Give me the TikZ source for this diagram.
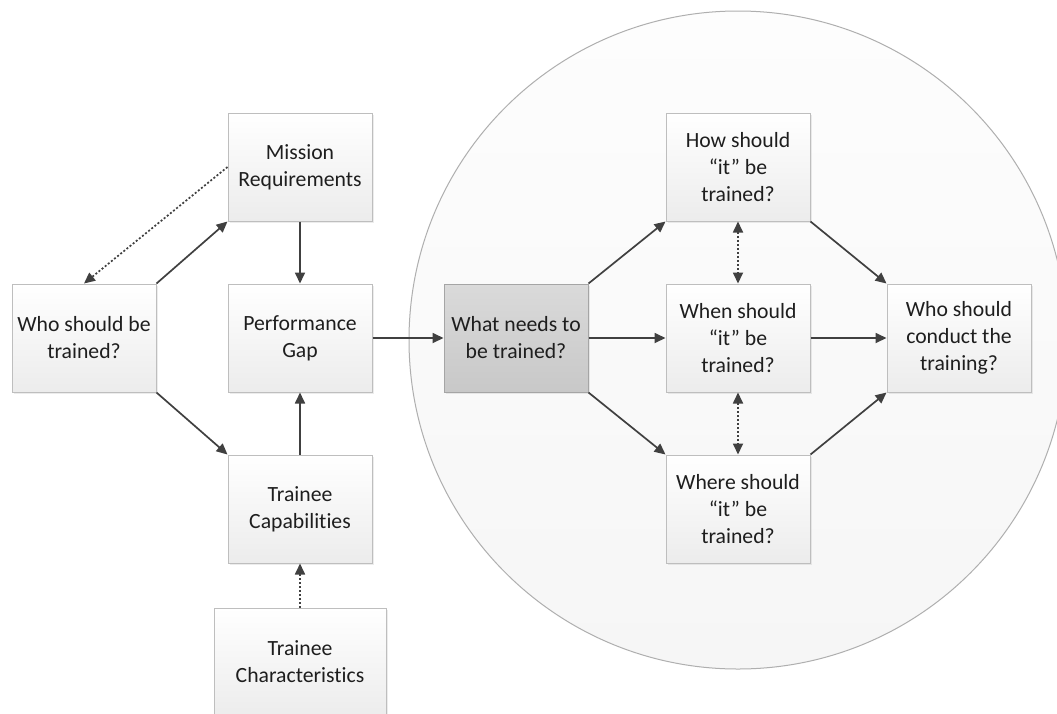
\documentclass[tikz,border=0pt]{standalone}
\usepackage{fontspec}
\setmainfont{Carlito}[Ligatures=NoCommon]
\usetikzlibrary{arrows.meta,shadows}
\definecolor{boxline}{RGB}{190,190,190}
\definecolor{boxbot}{RGB}{236,236,236}
\definecolor{darkline}{RGB}{64,64,64}
\definecolor{whattop}{RGB}{218,218,218}
\definecolor{whatbot}{RGB}{200,200,200}
\definecolor{whatline}{RGB}{165,165,165}
\definecolor{circtop}{RGB}{253,253,253}
\definecolor{circbot}{RGB}{246,246,246}
\definecolor{circline}{RGB}{175,175,175}
\definecolor{txt}{RGB}{30,30,30}
\tikzset{
  box/.style={draw=boxline, line width=1pt, top color=white, bottom color=boxbot,
    minimum width=144pt, minimum height=108pt, inner sep=0pt, align=center,
    text=txt, font=\fontsize{21.7}{27}\selectfont,
    drop shadow={opacity=0.15, shadow xshift=1.5pt, shadow yshift=-1.5pt}},
  whatbox/.style={box, draw=whatline, top color=whattop, bottom color=whatbot},
  arr/.style={draw=darkline, line width=1.7pt, -{Triangle[length=11pt,width=10pt]}},
  dotarr/.style={arr, dash pattern=on 2pt off 2pt},
  dotboth/.style={draw=darkline, line width=1.7pt, dash pattern=on 2pt off 2pt,
    {Triangle[length=11pt,width=10pt]}-{Triangle[length=11pt,width=10pt]}}
}
\begin{document}
\begin{tikzpicture}[x=1pt,y=-1pt]
\useasboundingbox (0,0) rectangle (1057,713);
\clip (0,0) rectangle (1057,713);
\fill[white] (0,0) rectangle (1057,713);
\shade[top color=circtop, bottom color=circbot, draw=circline, line width=1pt]
  (738,340) circle[radius=329];
\node[box] (mission) at (300,167) {Mission\\Requirements};
\node[box] (who) at (84,338) {Who should be\\trained?};
\node[box] (gap) at (300,338) {Performance\\Gap};
\node[box] (cap) at (300,509) {Trainee\\Capabilities};
\node[box, minimum width=172pt] (char) at (300,662) {Trainee\\Characteristics};
\node[whatbox] (what) at (516,338) {What needs to\\be trained?};
\node[box] (how) at (738,167) {How should\\“it” be\\trained?};
\node[box] (when) at (738,338) {When should\\“it” be\\trained?};
\node[box] (where) at (738,509) {Where should\\“it” be\\trained?};
\node[box] (conduct) at (959,338) {Who should\\conduct the\\training?};
\draw[arr] (who.north east) -- (mission.south west);
\draw[dotarr] (mission.west) -- (who.north);
\draw[arr] (who.south east) -- (cap.north west);
\draw[arr] (mission) -- (gap);
\draw[arr] (cap) -- (gap);
\draw[dotarr] (char) -- (cap);
\draw[arr] (gap) -- (what);
\draw[arr] (what.north east) -- (how.south west);
\draw[arr] (what) -- (when);
\draw[arr] (what.south east) -- (where.north west);
\draw[dotboth] (how) -- (when);
\draw[dotboth] (when) -- (where);
\draw[arr] (how.south east) -- (conduct.north west);
\draw[arr] (when) -- (conduct);
\draw[arr] (where.north east) -- (conduct.south west);
\end{tikzpicture}
\end{document}
